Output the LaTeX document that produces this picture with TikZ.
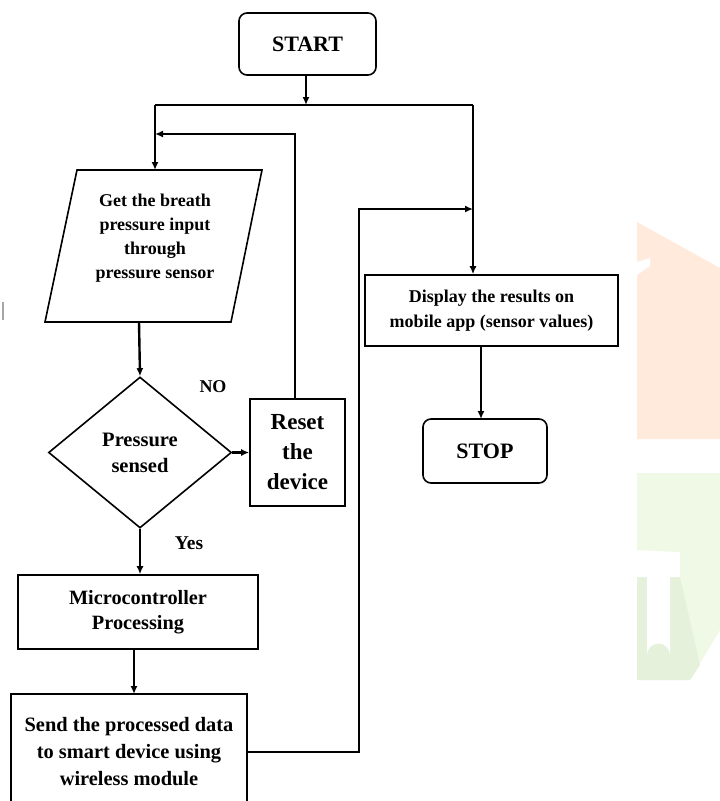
\documentclass[tikz,border=0pt]{standalone}
\usepackage{fontspec}
\setmainfont{Liberation Serif}
\usetikzlibrary{shapes.geometric,arrows.meta}
\definecolor{wmorange}{RGB}{255,234,219}
\definecolor{wmgreen}{RGB}{239,249,229}
\definecolor{wmgreendk}{RGB}{229,241,218}
\begin{document}
\begin{tikzpicture}[x=1pt,y=-1pt,
  box/.style={draw, line width=1.6pt, align=center, font=\bfseries, inner sep=0pt},
  rbox/.style={box, rounded corners=8pt},
  conn/.style={line width=2.4pt},
  arr/.style={conn, -{Latex[length=8pt,width=7pt]}},
  lab/.style={font=\bfseries\fontsize{18}{20}\selectfont, inner sep=0pt}
]
\useasboundingbox (0,0) rectangle (720,801);
\begin{scope}
\clip (0,0) rectangle (720,801);
% faint watermark
\fill[wmorange] (637,222) -- (720,268) -- (720,439) -- (637,439) -- cycle;
\fill[white] (637,262) -- (650,258) -- (650,266) -- (637,275) -- cycle;
\fill[wmgreen] (637,473) -- (720,473) -- (720,630) -- (690,680) -- (637,680) -- cycle;
\fill[wmgreendk] (637,577) -- (680,577) -- (700,665) -- (690,680) -- (637,680) -- cycle;
\fill[white] (637,550) -- (680,552) -- (680,577) -- (670,577) -- (670,655) arc (0:-180:11.5) -- (647,577) -- (637,577) -- cycle;
\draw[gray!70, line width=1.2pt] (3,302) -- (3,320);

% nodes
\node[rbox, minimum width=137pt, minimum height=62pt, font=\bfseries\fontsize{22}{26}\selectfont] (start) at (307.5,44) {START};
\draw[line width=1.6pt] (77,170) -- (262,170) -- (231,322) -- (45,322) -- cycle;
\node[align=center, inner sep=0pt, font=\bfseries\fontsize{18}{24}\selectfont] (inp) at (155,238) {Get the breath\\pressure input\\through\\pressure sensor};
\coordinate (inpT) at (155,170);
\coordinate (inpB) at (139,322);
\node[box, shape=diamond, minimum width=183pt, minimum height=151pt, font=\bfseries\fontsize{20.5}{26}\selectfont] (dia) at (140,452.5) {Pressure\\sensed};
\node[box, minimum width=95pt, minimum height=107pt, font=\bfseries\fontsize{23}{30}\selectfont] (reset) at (297.5,452.5) {Reset\\the\\device};
\node[box, minimum width=240pt, minimum height=74pt, font=\bfseries\fontsize{20.3}{25}\selectfont] (micro) at (138,612) {Microcontroller\\Processing};
\node[box, minimum width=236pt, minimum height=116pt, font=\bfseries\fontsize{20.4}{27}\selectfont] (send) at (129,752) {Send the processed data\\to smart device using\\wireless module};
\node[box, minimum width=253pt, minimum height=71pt, font=\bfseries\fontsize{18}{25}\selectfont] (disp) at (491.5,310.5) {Display the results on\\mobile app (sensor values)};
\node[rbox, minimum width=124pt, minimum height=64pt, font=\bfseries\fontsize{22}{26}\selectfont] (stop) at (485,451) {STOP};

\node[lab] (no) at (213,387) {NO};
\node[lab, font=\bfseries\fontsize{19.5}{22}\selectfont] (yes) at (189,543) {Yes};

% connectors
\coordinate (jL) at (155,105);
\coordinate (jR) at (473,105);
\coordinate (jM) at (306,105);
\coordinate (fb) at (155,134);
\coordinate (rs) at (295,399);
\coordinate (dispIn) at (473,209);
\coordinate (sendUp) at (359,209);
\draw[arr] (start.south -| jM) -- (jM);
\draw[conn] (jL) -- (jR);
\draw[arr] (jL) -- (inpT);
\draw[arr] (jR) -- (jR |- disp.north);
\draw[arr] (inpB) -- (dia.north);
\draw[arr] (dia.east) -- (reset.west);
\draw[arr] (rs) -- (rs |- fb) -- (fb);
\draw[arr] (dia.south) -- (dia.south |- micro.north);
\draw[arr] (134,649) -- (134,694);
\draw[arr] (send.east) -- (send.east -| sendUp) -- (sendUp) -- (dispIn);
\draw[arr] (481,346) -- (481,419);
\end{scope}
\end{tikzpicture}
\end{document}
